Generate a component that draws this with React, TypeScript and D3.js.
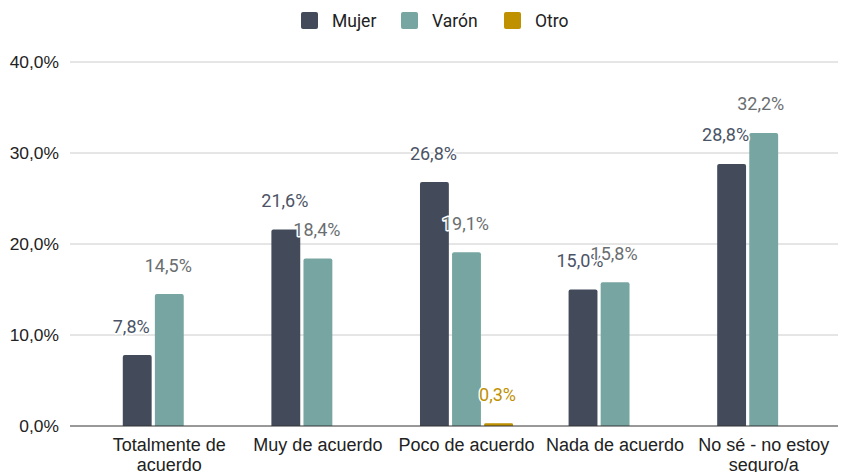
import React from "react";
import * as d3 from "d3";

// survey answers (percent)
const categories = [
  "Totalmente de acuerdo",
  "Muy de acuerdo",
  "Poco de acuerdo",
  "Nada de acuerdo",
  "No sé - no estoy seguro/a",
];
const seriesNames = ["Mujer", "Varón", "Otro"];
const mujer = [7.8, 21.6, 26.8, 15.0, 28.8];
const varon = [14.5, 18.4, 19.1, 15.8, 32.2];
const otro = [0, 0, 0.3, 0, 0];
const yTicks = [0, 10, 20, 30, 40];

// wrapped lines for the x labels
const categoryLines = [
  ["Totalmente de", "acuerdo"],
  ["Muy de acuerdo"],
  ["Poco de acuerdo"],
  ["Nada de acuerdo"],
  ["No sé - no estoy", "seguro/a"],
];

const colors = ["#434a5a", "#77a5a1", "#bf9000"];
const labelColors = ["#4b5366", "#6a6e70", "#bf9000"];
// small horizontal nudges the original label placer applied
const labelNudge = [
  [-6, -1, 0],
  [-1, -1, 0],
  [-1, -1, -1],
  [-3, -1, 0],
  [-6, -3, 0],
];

const fmt = (v: number) => v.toFixed(1).replace(".", ",") + "%";

export default function App() {
  const width = 850;
  const height = 472;
  const gridLeft = 70;
  const right = 838;

  const values = [mujer, varon, otro];

  const x = d3
    .scaleBand<string>()
    .domain(categories)
    .range([95, right])
    .paddingInner(0.374)
    .paddingOuter(0.187);

  const xs = d3
    .scaleBand<string>()
    .domain(seriesNames)
    .range([0, x.bandwidth()])
    .paddingInner(0.1);

  const y = d3.scaleLinear().domain([0, 40]).range([426, 62]);

  const barPath = (x0: number, y0: number, w: number, h: number) => {
    const r = Math.min(2, h / 2, w / 2);
    if (h <= 0) return "";
    return `M${x0},${y0 + h}V${y0 + r}Q${x0},${y0} ${x0 + r},${y0}H${x0 + w - r}Q${x0 + w},${y0} ${x0 + w},${y0 + r}V${y0 + h}Z`;
  };

  return (
    <svg
      width={width}
      height={height}
      style={{ position: "absolute", left: 0, top: 0, background: "#fff" }}
    >
      {/* legend */}
      <g fontFamily="Roboto, sans-serif" fontSize={17.5} fill="#222">
        {seriesNames.map((s, i) => {
          const lx = [301, 401, 504][i];
          return (
            <g key={s} transform={`translate(${lx},12)`}>
              <rect width={17} height={17} rx={2} fill={colors[i]} />
              <text x={31} y={14.5}>
                {s}
              </text>
            </g>
          );
        })}
      </g>

      {/* grid + y axis */}
      <g fontFamily="'Liberation Sans', Arial, sans-serif" fontSize={17.4} fill="#222">
        {yTicks.map((t) => (
          <g key={t}>
            {t !== 0 && (
              <line x1={gridLeft} x2={right} y1={y(t)} y2={y(t)} stroke="#cccccc" strokeWidth={1} />
            )}
            <text x={59} y={y(t)} dy="0.36em" textAnchor="end">
              {fmt(t)}
            </text>
          </g>
        ))}
      </g>

      {/* bars */}
      {categories.map((c, ci) => (
        <g key={c} transform={`translate(${x(c)},0)`}>
          {seriesNames.map((s, si) => {
            const v = values[si][ci];
            if (v <= 0) return null;
            const bx = xs(s)!;
            const top = y(v);
            const h = y(0) - top;
            return (
              <path
                key={s}
                d={barPath(bx, top, xs.bandwidth(), Math.max(h, 2))}
                transform={h < 2 ? `translate(0,${h - 2})` : undefined}
                fill={colors[si]}
              />
            );
          })}
        </g>
      ))}

      {/* baseline */}
      <line x1={gridLeft} x2={right} y1={y(0)} y2={y(0)} stroke="#333" strokeWidth={1} />

      {/* data labels */}
      <g fontFamily="Roboto, sans-serif" fontSize={18}>
        {categories.map((c, ci) =>
          seriesNames.map((s, si) => {
            const v = values[si][ci];
            if (v <= 0) return null;
            const cx = x(c)! + xs(s)! + xs.bandwidth() / 2 + labelNudge[ci][si];
            const cy = y(v) - 29;
            return (
              <text
                key={c + s}
                x={cx}
                y={cy}
                dy="0.36em"
                textAnchor="middle"
                fill={labelColors[si]}
                stroke="#fff"
                strokeWidth={3}
                strokeLinejoin="round"
                paintOrder="stroke"
              >
                {fmt(v)}
              </text>
            );
          })
        )}
      </g>

      {/* x axis labels */}
      <g fontFamily="'Liberation Sans', Arial, sans-serif" fontSize={18} fill="#222">
        {categories.map((c, ci) => (
          <text key={c} textAnchor="middle" x={x(c)! + x.bandwidth() / 2}>
            {categoryLines[ci].map((l, li) => (
              <tspan key={li} x={x(c)! + x.bandwidth() / 2} y={451 + li * 20}>
                {l}
              </tspan>
            ))}
          </text>
        ))}
      </g>
    </svg>
  );
}
